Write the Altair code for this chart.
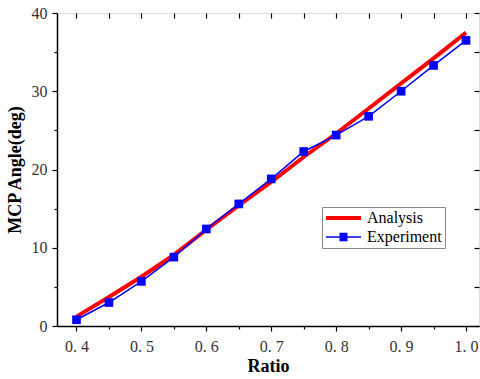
import altair as alt
import pandas as pd

ratio = [0.40, 0.45, 0.50, 0.55, 0.60, 0.65, 0.70, 0.75, 0.80, 0.85, 0.90, 0.95, 1.00]
analysis = [1.2, 3.7, 6.3, 9.1, 12.3, 15.4, 18.4, 21.6, 24.6, 27.8, 31.0, 34.2, 37.5]
experiment = [0.8, 3.0, 5.7, 8.8, 12.4, 15.6, 18.8, 22.3, 24.4, 26.8, 30.0, 33.3, 36.5]
series_names = ["Analysis", "Experiment"]
series_colors = ["#ff0000", "#0000ff"]
x_ticks = [0.40, 0.45, 0.50, 0.55, 0.60, 0.65, 0.70, 0.75, 0.80, 0.85, 0.90, 0.95, 1.00]
y_ticks = [0, 5, 10, 15, 20, 25, 30, 35, 40]

df_a = pd.DataFrame({"ratio": ratio, "angle": analysis, "series": "Analysis"})
df_e = pd.DataFrame({"ratio": ratio, "angle": experiment, "series": "Experiment"})
df_all = pd.concat([df_a, df_e], ignore_index=True)

FONT = "Liberation Serif"
xs = alt.Scale(domain=[0.37, 1.02], nice=False, zero=False)
ys = alt.Scale(domain=[0, 40], nice=False, zero=True)

major_x = "abs(datum.value*10 - round(datum.value*10)) < 0.001"
major_y = "abs(datum.value/10 - round(datum.value/10)) < 0.001"

x_bottom = alt.Axis(
    orient="bottom", values=x_ticks, title="Ratio", grid=False,
    labelExpr=f"{major_x} ? replace(format(datum.value, '.1f'), '.', '. ') : ''",
    tickSize={"condition": {"test": major_x, "value": 5}, "value": 3},
    tickColor="black", tickWidth=1.2, domainColor="black", domainWidth=1.5,
    labelFont=FONT, labelFontSize=16, labelColor="#333333", labelPadding=7,
    labelFlush=False, labelOverlap=False,
    titleFont=FONT, titleFontSize=18, titleFontWeight="bold", titleColor="black",
    titlePadding=3,
)
y_left = alt.Axis(
    orient="left", values=y_ticks, title="MCP Angle(deg)", grid=False,
    labelExpr=f"{major_y} ? format(datum.value, 'd') : ''",
    tickSize={"condition": {"test": major_y, "value": 5}, "value": 3},
    tickColor="black", tickWidth=1.2, domainColor="black", domainWidth=1.5,
    labelFont=FONT, labelFontSize=16, labelColor="#333333", labelPadding=5,
    labelFlush=False, labelOverlap=False,
    titleFont=FONT, titleFontSize=18, titleFontWeight="bold", titleColor="black",
    titlePadding=7,
)
x_top = alt.Axis(orient="top", values=x_ticks, labels=False, title=None, grid=False,
                 domain=False, tickSize=5, offset=-5, tickColor="black", tickWidth=1.2)
y_right = alt.Axis(orient="right", values=y_ticks, labels=False, title=None, grid=False,
                   domain=False, tickSize=5, offset=-5, tickColor="black", tickWidth=1.2)

red = alt.Chart(df_a).mark_line(color="#ff0000", strokeWidth=4).encode(
    x=alt.X("ratio:Q", scale=xs, axis=x_bottom),
    y=alt.Y("angle:Q", scale=ys, axis=y_left),
)
blue = alt.Chart(df_e).mark_line(color="#0000ff", strokeWidth=1.5).encode(
    x=alt.X("ratio:Q", scale=xs, axis=x_top),
    y=alt.Y("angle:Q", scale=ys, axis=y_right),
)
squares = alt.Chart(df_e).mark_point(shape="square", filled=True, color="#0000ff",
                                      size=75, opacity=1).encode(
    x=alt.X("ratio:Q", scale=xs, axis=None),
    y=alt.Y("angle:Q", scale=ys, axis=None),
)

# legend symbol: box of 14px (size 196), path drawn 35px wide to the right
leg = alt.Legend(
    orient="none", legendX=265, legendY=194, title=None,
    symbolSize=196, symbolOpacity=1, symbolStrokeWidth=0,
    labelFont=FONT, labelFontSize=16, labelColor="black", labelOffset=26,
    strokeColor="#888888", fillColor="white", padding=3, rowPadding=3,
)
shape_paths = [
    "M-1,-0.29H4V0.29H-1Z",
    "M-1,-0.11H4V0.11H-1ZM0.93,-0.6H2.07V0.6H0.93Z",
]
legend_layer = alt.Chart(df_all).mark_point(filled=True, opacity=0).encode(
    x=alt.X("ratio:Q", scale=xs, axis=None),
    y=alt.Y("angle:Q", scale=ys, axis=None),
    color=alt.Color("series:N", scale=alt.Scale(domain=series_names, range=series_colors), legend=leg),
    shape=alt.Shape("series:N", scale=alt.Scale(domain=series_names, range=shape_paths), legend=leg),
)

chart = alt.layer(red, blue, squares, legend_layer).properties(
    width=422, height=313,
    autosize=alt.AutoSizeParams(type="none"),
    padding={"left": 57, "top": 13, "right": 1, "bottom": 53},
).configure_view(stroke="black", strokeWidth=1.5).configure(background="white")

chart.save("out.html", embed_options={"renderer": "svg", "actions": False})
